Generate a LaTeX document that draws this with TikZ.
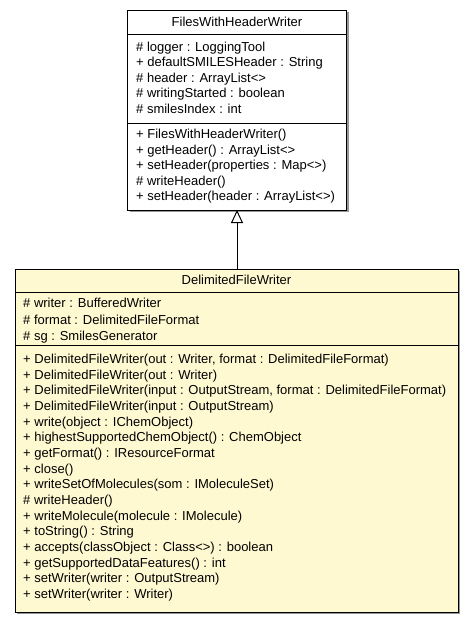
\documentclass[tikz,border=0pt]{standalone}
\usepackage{fontspec}
\setmainfont{Liberation Sans}
\usetikzlibrary{arrows.meta}
\definecolor{classfill}{RGB}{255,249,210}
\definecolor{shadowgray}{RGB}{150,150,150}
\begin{document}
\begin{tikzpicture}[x=1pt,y=-1pt,
  classbox/.style={draw=black, line width=1pt, anchor=north west, inner sep=0pt, outer sep=0pt},
  shadowbox/.style={fill=shadowgray, draw=none},
  member/.style={anchor=base west, inner sep=0pt, font=\fontsize{13}{15}\selectfont},
  title/.style={anchor=base, inner sep=0pt, font=\fontsize{13}{15}\selectfont},
  sep/.style={draw=black, line width=1pt},
  inherit/.style={draw=black, line width=1pt, -{Triangle[open, length=13pt, width=12pt, fill=white]}}
]
\useasboundingbox (0,0) rectangle (475,624);

% ---------- FilesWithHeaderWriter ----------
\fill[shadowbox] (129.5,12) rectangle (348.5,212);
\node[classbox, fill=white, minimum width=219pt, minimum height=200pt] (fwhw) at (127.5,10) {};
\draw[sep] (127.5,34) -- (346.5,34);
\draw[sep] (127.5,123) -- (346.5,123);
\node[title] (fwhwT) at (237,26.5) {FilesWithHeaderWriter};
\node[member] (a1) at (136,51.5) {\# logger : LoggingTool};
\node[member] (a2) at (136,66.9) {+ defaultSMILESHeader : String};
\node[member] (a3) at (136,82.3) {\# header : ArrayList<>};
\node[member] (a4) at (136,97.7) {\# writingStarted : boolean};
\node[member] (a5) at (136,113.1) {\# smilesIndex : int};
\node[member] (m1) at (136,138.5) {+ FilesWithHeaderWriter()};
\node[member] (m2) at (136,154) {+ getHeader() : ArrayList<>};
\node[member] (m3) at (136,169.5) {+ setHeader(properties : Map<>)};
\node[member] (m4) at (136,185) {\# writeHeader()};
\node[member] (m5) at (136,200.5) {+ setHeader(header : ArrayList<>)};

% ---------- DelimitedFileWriter ----------
\fill[shadowbox] (17,271) rectangle (460,614);
\node[classbox, fill=classfill, minimum width=443pt, minimum height=343pt] (dfw) at (15,269) {};
\draw[sep] (15,292) -- (458,292);
\draw[sep] (15,345) -- (458,345);
\node[title] (dfwT) at (236.5,284) {DelimitedFileWriter};
\node[member] (b1) at (23,307.5) {\# writer : BufferedWriter};
\node[member] (b2) at (23,324) {\# format : DelimitedFileFormat};
\node[member] (b3) at (23,340.5) {\# sg : SmilesGenerator};
\node[member] (c1) at (23,363.5) {+ DelimitedFileWriter(out : Writer, format : DelimitedFileFormat)};
\node[member] (c2) at (23,379.17) {+ DelimitedFileWriter(out : Writer)};
\node[member] (c3) at (23,394.83) {+ DelimitedFileWriter(input : OutputStream, format : DelimitedFileFormat)};
\node[member] (c4) at (23,410.5) {+ DelimitedFileWriter(input : OutputStream)};
\node[member] (c5) at (23,426.17) {+ write(object : IChemObject)};
\node[member] (c6) at (23,441.83) {+ highestSupportedChemObject() : ChemObject};
\node[member] (c7) at (23,457.5) {+ getFormat() : IResourceFormat};
\node[member] (c8) at (23,473.17) {+ close()};
\node[member] (c9) at (23,488.83) {+ writeSetOfMolecules(som : IMoleculeSet)};
\node[member] (c10) at (23,504.5) {\# writeHeader()};
\node[member] (c11) at (23,520.17) {+ writeMolecule(molecule : IMolecule)};
\node[member] (c12) at (23,535.83) {+ toString() : String};
\node[member] (c13) at (23,551.5) {+ accepts(classObject : Class<>) : boolean};
\node[member] (c14) at (23,567.17) {+ getSupportedDataFeatures() : int};
\node[member] (c15) at (23,582.83) {+ setWriter(writer : OutputStream)};
\node[member] (c16) at (23,598.5) {+ setWriter(writer : Writer)};

% ---------- generalization ----------
\coordinate (dfwTop) at (237,269);
\coordinate (fwhwBot) at (237,210);
\draw[inherit] (dfwTop) -- (fwhwBot);
\end{tikzpicture}
\end{document}
